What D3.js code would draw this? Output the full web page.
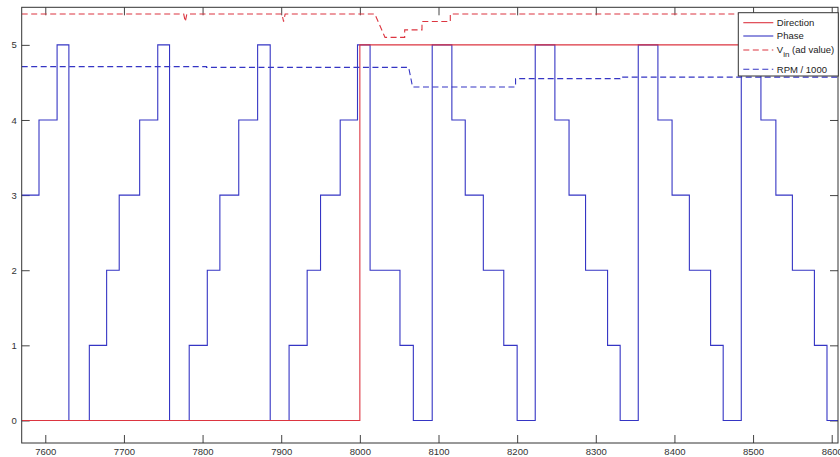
<!DOCTYPE html>
<html>
<head>
<meta charset="utf-8">
<script src="https://cdn.jsdelivr.net/npm/d3@7"></script>
<style>
body { margin: 0; background: #fff; }
text { font-family: "Liberation Sans", Arial, sans-serif; }
</style>
</head>
<body>
<svg></svg>
<script>
// phase steps (time where the value starts)
var phaseTimes = [7570, 7592, 7615, 7630, 7656, 7678, 7694, 7720, 7743, 7758, 7783, 7806, 7822, 7846, 7870, 7886,
    7910, 7933, 7950, 7975, 7997, 8013, 8051, 8068, 8092, 8117, 8134, 8157, 8183, 8200, 8223, 8248, 8266, 8287,
    8315, 8331, 8354, 8379, 8397, 8419, 8446, 8462, 8485, 8510, 8529, 8550, 8578, 8594];
var phaseValues = [3, 4, 5, 0, 1, 2, 3, 4, 5, 0, 1, 2, 3, 4, 5, 0,
    1, 2, 3, 4, 5, 2, 1, 0, 5, 4, 3, 2, 1, 0, 5, 4, 3, 2,
    1, 0, 5, 4, 3, 2, 1, 0, 5, 4, 3, 2, 1, 0];

var directionTimes = [7570, 8000];
var directionValues = [0, 5];

var vinTimes = [7570, 7776, 7778, 7780, 7901, 7903, 7905, 8019, 8032, 8057, 8057, 8079, 8079, 8115, 8115, 8608];
var vinValues = [5.41, 5.41, 5.31, 5.41, 5.41, 5.31, 5.41, 5.41, 5.10, 5.10, 5.20, 5.20, 5.31, 5.31, 5.41, 5.41];

var rpmTimes = [7570, 7805, 7805, 8062, 8064, 8067, 8198, 8198, 8331, 8331, 8608];
var rpmValues = [4.71, 4.71, 4.70, 4.70, 4.60, 4.44, 4.44, 4.55, 4.55, 4.57, 4.57];

var xTicks = [7600, 7700, 7800, 7900, 8000, 8100, 8200, 8300, 8400, 8500, 8600];
var yTicks = [0, 1, 2, 3, 4, 5];
var legendNames = ["Direction", "Phase", "V", "RPM / 1000"];

var screen = {width: 840, height: 457};
var margins = {top: 7.3, right: 2, bottom: 14, left: 21.7};
var red = "#dc3540";
var blue = "#3535c4";

var zip = function(ts, vs) {
    return ts.map(function(t, i) { return {t: t, v: vs[i]}; });
}

var makeGraph = function()
{
    var width = screen.width - margins.left - margins.right;
    var height = screen.height - margins.top - margins.bottom;

    var svg = d3.select("svg")
    .attr("width", screen.width)
    .attr("height", screen.height);

    var xScale = d3.scaleLinear().domain([7570, 8608]).range([0, width]);
    var yScale = d3.scaleLinear().domain([-0.3, 5.5]).range([height, 0]);

    var g = svg.append("g")
    .attr("id", "graph")
    .attr("transform", "translate(" + margins.left + "," + margins.top + ")");

    svg.append("defs").append("clipPath").attr("id", "clip")
    .append("rect").attr("width", width).attr("height", height);

    // axes, ticks pointing inside
    var styleAxis = function(sel) {
        sel.select(".domain").remove();
        sel.selectAll(".tick line").attr("stroke", "#444");
        sel.selectAll(".tick text").attr("fill", "#333").style("font-size", "9.5px");
    }
    var fmt = d3.format("d");
    g.append("g").attr("transform", "translate(0," + height + ")")
    .call(d3.axisBottom(xScale).tickValues(xTicks).tickFormat(fmt).tickSizeInner(-8).tickSizeOuter(0).tickPadding(5))
    .call(styleAxis);
    g.append("g")
    .call(d3.axisTop(xScale).tickValues(xTicks).tickSizeInner(-8).tickSizeOuter(0).tickFormat(""))
    .call(styleAxis);
    g.append("g")
    .call(d3.axisLeft(yScale).tickValues(yTicks).tickFormat(fmt).tickSizeInner(-8).tickSizeOuter(0).tickPadding(5))
    .call(styleAxis);
    g.append("g").attr("transform", "translate(" + width + ",0)")
    .call(d3.axisRight(yScale).tickValues(yTicks).tickSizeInner(-8).tickSizeOuter(0).tickFormat(""))
    .call(styleAxis);

    var lineStep = d3.line()
    .x(function(d) { return xScale(d.t); })
    .y(function(d) { return yScale(d.v); })
    .curve(d3.curveStepAfter);
    var lineLin = d3.line()
    .x(function(d) { return xScale(d.t); })
    .y(function(d) { return yScale(d.v); });

    var lines = g.append("g").attr("clip-path", "url(#clip)").attr("fill", "none").attr("stroke-width", 1.1);

    var phase = zip(phaseTimes, phaseValues);
    phase.push({t: 8608, v: phaseValues[phaseValues.length - 1]});
    var direction = zip(directionTimes, directionValues);
    direction.push({t: 8608, v: 5});

    lines.append("path").datum(phase).attr("stroke", blue).attr("d", lineStep);
    lines.append("path").datum(direction).attr("stroke", red).attr("d", lineStep);
    lines.append("path").datum(zip(vinTimes, vinValues)).attr("stroke", red)
    .attr("stroke-dasharray", "6,3.5").attr("d", lineLin);
    lines.append("path").datum(zip(rpmTimes, rpmValues)).attr("stroke", blue)
    .attr("stroke-dasharray", "6,3.5").attr("d", lineLin);

    g.append("rect")
    .attr("width", width).attr("height", height)
    .attr("fill", "none").attr("stroke", "#333").attr("stroke-width", 1);

    drawLegend(svg);
}

var drawLegend = function(svg)
{
    var lg = svg.append("g").attr("transform", "translate(738.3,12.7)");
    lg.append("rect").attr("width", 100).attr("height", 63.3)
    .attr("fill", "#fff").attr("stroke", "#333").attr("stroke-width", 1);

    var rows = [
        {y: 10, color: red, dash: null},
        {y: 23.3, color: blue, dash: null},
        {y: 37.3, color: red, dash: "6,3.5"},
        {y: 56.6, color: blue, dash: "6,3.5"}
    ];
    var items = lg.selectAll(".item")
    .data(rows)
    .enter()
    .append("g")
    .attr("transform", function(d) { return "translate(0," + d.y + ")"; });

    items.append("line")
    .attr("x1", 5).attr("x2", 35)
    .attr("stroke", function(d) { return d.color; })
    .attr("stroke-width", 1.1)
    .attr("stroke-dasharray", function(d) { return d.dash; });

    var texts = items.append("text")
    .attr("x", 38.5).attr("dy", "0.35em")
    .attr("fill", "#222").style("font-size", "9.5px");
    texts.filter(function(d, i) { return i != 2; })
    .text(function(d) { return legendNames[rows.indexOf(d)]; });

    var vin = texts.filter(function(d, i) { return i == 2; });
    vin.append("tspan").text(legendNames[2]);
    vin.append("tspan").attr("dy", 4).style("font-size", "8px").text("in");
    vin.append("tspan").attr("dy", -4).text(" (ad value)");
}

makeGraph();
</script>
</body>
</html>
